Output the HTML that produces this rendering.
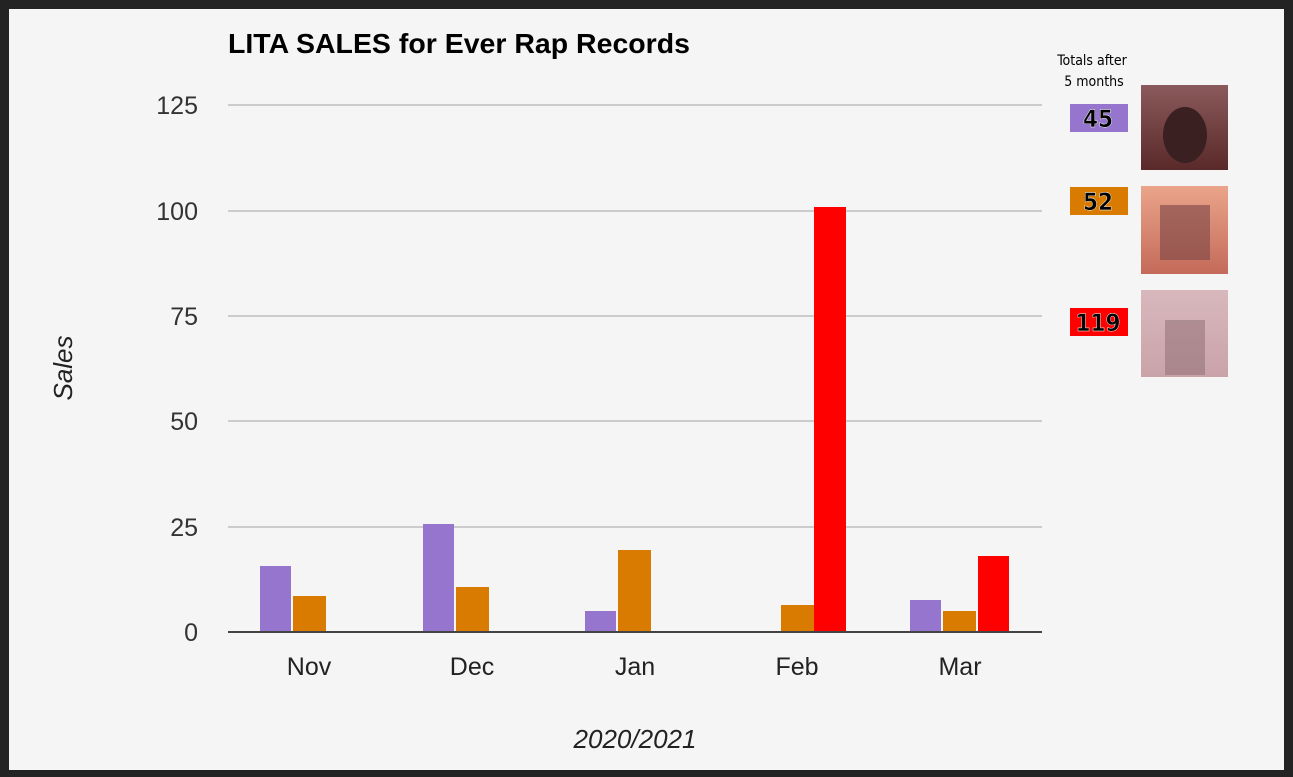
<!DOCTYPE html>
<html><head><meta charset="utf-8"><style>
body{margin:0;width:1293px;height:777px;background:#222;overflow:hidden;font-family:"Liberation Sans",Arial,sans-serif}
</style></head><body>
<svg width="1293" height="777" xmlns="http://www.w3.org/2000/svg" style="position:absolute;left:0;top:0">
<rect x="0" y="0" width="1293" height="777" fill="#232323"/>
<rect x="9" y="9" width="1275" height="761" fill="#f5f5f5"/>
<text x="228" y="53" font-size="27.5" font-weight="bold" fill="#000" textLength="462" lengthAdjust="spacingAndGlyphs">LITA SALES for Ever Rap Records</text>
<g stroke="#cccccc" stroke-width="2">
<line x1="228" y1="105" x2="1042" y2="105"/>
<line x1="228" y1="211" x2="1042" y2="211"/>
<line x1="228" y1="316" x2="1042" y2="316"/>
<line x1="228" y1="421" x2="1042" y2="421"/>
<line x1="228" y1="527" x2="1042" y2="527"/>
</g>
<g font-size="25" fill="#333" text-anchor="end">
<text x="198" y="114">125</text>
<text x="198" y="220">100</text>
<text x="198" y="325">75</text>
<text x="198" y="430">50</text>
<text x="198" y="536">25</text>
<text x="198" y="641">0</text>
</g>
<g fill="#9575cd">
<rect x="260" y="566" width="31" height="66"/>
<rect x="423" y="524" width="31" height="108"/>
<rect x="585" y="611" width="31" height="21"/>
<rect x="910" y="600" width="31" height="32"/>
</g>
<g fill="#d97b00">
<rect x="293" y="596" width="33" height="36"/>
<rect x="456" y="587" width="33" height="45"/>
<rect x="618" y="550" width="33" height="82"/>
<rect x="781" y="605" width="33" height="27"/>
<rect x="943" y="611" width="33" height="21"/>
</g>
<g fill="#ff0000">
<rect x="814" y="207" width="32" height="425"/>
<rect x="978" y="556" width="31" height="76"/>
</g>
<line x1="228" y1="632" x2="1042" y2="632" stroke="#444" stroke-width="2"/>
<g font-size="25" fill="#222" text-anchor="middle">
<text x="309" y="675">Nov</text>
<text x="472" y="675">Dec</text>
<text x="635" y="675">Jan</text>
<text x="797" y="675">Feb</text>
<text x="960" y="675">Mar</text>
</g>
<text x="635" y="748" font-size="26" font-style="italic" fill="#222" text-anchor="middle">2020/2021</text>
<text transform="translate(72,368) rotate(-90)" font-size="26" font-style="italic" fill="#222" text-anchor="middle">Sales</text>
<g font-size="14" fill="#000" text-anchor="middle" font-family="'DejaVu Sans Condensed','DejaVu Sans',sans-serif">
<text x="1092" y="65">Totals after</text>
<text x="1094" y="86">5 months</text>
</g>
<rect x="1070" y="104" width="58" height="28" fill="#9575cd"/>
<rect x="1070" y="187" width="58" height="28" fill="#d97b00"/>
<rect x="1070" y="308" width="58" height="28" fill="#ff0000"/>
<g font-size="24" font-weight="bold" fill="#000" stroke="#fff" stroke-width="0.4" text-anchor="middle" font-family="'DejaVu Sans Condensed','DejaVu Sans',sans-serif">
<text x="1098" y="127">45</text>
<text x="1098" y="210">52</text>
<text x="1098" y="331">119</text>
</g>
<defs>
<linearGradient id="g1" x1="0" y1="0" x2="0" y2="1"><stop offset="0" stop-color="#8a5a5c"/><stop offset="1" stop-color="#5a2a2a"/></linearGradient>
<linearGradient id="g2" x1="0" y1="0" x2="0" y2="1"><stop offset="0" stop-color="#eaa58a"/><stop offset="1" stop-color="#c46a5a"/></linearGradient>
<linearGradient id="g3" x1="0" y1="0" x2="0" y2="1"><stop offset="0" stop-color="#d8b8bd"/><stop offset="1" stop-color="#c9a3a8"/></linearGradient>
</defs>
<rect x="1141" y="85" width="87" height="85" fill="url(#g1)"/>
<rect x="1141" y="186" width="87" height="88" fill="url(#g2)"/>
<rect x="1141" y="290" width="87" height="87" fill="url(#g3)"/>
<ellipse cx="1185" cy="135" rx="22" ry="28" fill="#3a2020"/>
<rect x="1160" y="205" width="50" height="55" fill="#7a4545" opacity="0.6"/>
<rect x="1165" y="320" width="40" height="55" fill="#8a6a70" opacity="0.5"/>
</svg>
</body></html>
